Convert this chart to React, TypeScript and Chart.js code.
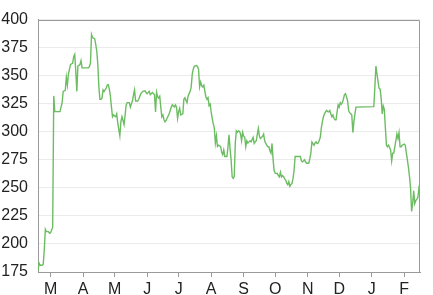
import React, { useEffect, useRef } from "react";
import { Chart, registerables } from "chart.js";

Chart.register(...registerables);

// day offsets from 1 March (negative = February of the first year)
const days = [
  -12, -11, -10, -8, -7, -6, -5, -4, -2, -1, 0, 2, 3, 4, 6, 9, 11, 12, 14, 15, 16, 17, 19, 21, 22, 23, 24, 25, 26, 28,
  29, 30, 32, 36, 37, 38, 39, 40, 42, 43, 44, 45, 46, 47, 48, 49, 50, 51, 53, 54, 55, 56, 57, 58, 59, 60, 61, 62, 63, 64,
  65, 66, 67, 68, 69, 70, 71, 72, 73, 75, 76, 77, 78, 79, 80, 81, 83, 84, 86, 88, 90, 91, 92, 94, 95, 97, 99, 100, 101, 102,
  103, 104, 105, 106, 107, 108, 109, 110, 111, 112, 113, 114, 115, 116, 118, 119, 120, 121, 122, 123, 124, 126, 127, 128, 129, 130, 131, 132, 133, 134,
  135, 136, 137, 139, 140, 141, 142, 143, 144, 145, 146, 147, 148, 149, 150, 151, 152, 153, 154, 155, 156, 157, 158, 159, 160, 162, 163, 164, 165, 166,
  168, 169, 170, 171, 172, 173, 174, 175, 176, 177, 178, 179, 180, 181, 182, 183, 184, 185, 186, 187, 188, 189, 190, 191, 192, 193, 194, 195, 196, 197,
  198, 199, 200, 201, 202, 203, 204, 205, 206, 207, 208, 209, 210, 211, 212, 213, 214, 215, 216, 217, 218, 219, 220, 221, 222, 223, 224, 225, 226, 227,
  228, 229, 230, 231, 232, 233, 234, 236, 238, 239, 240, 241, 242, 243, 244, 246, 247, 248, 249, 250, 251, 252, 253, 254, 255, 256, 257, 258, 259, 260,
  261, 262, 263, 264, 265, 266, 267, 268, 269, 270, 271, 272, 273, 274, 275, 276, 277, 278, 279, 280, 281, 282, 283, 284, 285, 286, 287, 288, 289, 290,
  291, 308, 309, 310, 311, 312, 313, 314, 315, 316, 317, 318, 319, 320, 321, 322, 323, 324, 325, 326, 327, 328, 329, 330, 331, 332, 333, 334, 335, 337,
  338, 339, 340, 341, 342, 343, 344, 345, 346, 347, 348, 349, 350, 351, 352,
];

const prices = [
  176, 183, 181, 181, 182, 195, 213, 211, 211, 209.5, 210, 215, 332, 318, 318, 318, 326, 336, 337, 348.6, 341.6, 351.5, 360, 361, 367, 369, 354, 336, 358.5, 360,
  363.4, 357, 357, 357, 358, 361.4, 386.7, 384, 383, 378, 372, 360, 340, 329, 329, 330, 337.4, 336, 339, 341.6, 342, 338, 331.7, 322, 313.4, 315, 314, 313.4, 316, 308,
  302, 296.5, 309, 313.4, 310, 306.4, 315, 324, 326, 326, 322, 325, 327.5, 333, 337.4, 327.5, 327.5, 329, 334, 336, 336.5, 335, 334, 336, 333, 335, 333, 317.7, 335, 331,
  330, 331.7, 322, 313.4, 315, 311, 309, 310, 312, 314, 316, 319, 322, 324, 322, 324, 322, 312, 318, 321, 315, 316, 329, 330.4, 328, 326, 331.7, 334, 336, 340,
  351.5, 356, 358.5, 359, 358, 355.7, 340, 344.4, 341, 340, 341.5, 336, 331, 329, 330.4, 323.3, 324.6, 317.7, 312, 307, 303.5, 290, 296.5, 287, 288, 287, 282, 279.6, 283.8, 278,
  278, 286, 297.4, 285, 275, 259.8, 258.4, 260, 290, 300.8, 299.5, 300.8, 300.5, 298, 292, 299.5, 296, 295, 286.6, 292, 290, 291, 292, 291, 293, 295, 289.6, 291, 292, 298,
  303, 296, 294, 295, 296, 298, 292, 289.6, 288, 286.6, 286.6, 283, 281, 289.6, 275.4, 265.5, 263, 262.7, 263, 261, 259.8, 264, 259.8, 261, 260, 258, 257, 254.2, 252.8, 255.6,
  251.4, 253, 254, 258.4, 265.5, 278, 278, 278, 278, 274, 273.2, 274, 275, 273, 272, 272, 276, 281, 290.9, 289.5, 288, 290, 291, 289.5, 290, 292.3, 295.1, 303.6, 309, 313.4,
  316, 317.7, 319, 318, 317.7, 319, 316, 313.4, 315, 312, 310.6, 310.6, 317.7, 324, 322, 326, 324.6, 326, 329, 333.2, 334, 331, 327.7, 319, 317, 316, 315, 299.3, 309, 316,
  322, 322.4, 340, 358.5, 351.5, 345, 338.8, 338, 330, 316, 323, 320, 303.6, 288, 286.6, 288, 286, 283.8, 274, 281, 281, 286.6, 292, 298, 294, 299.3, 286.6, 286.6, 288, 289,
  288, 281, 275, 268, 260, 250, 229, 236, 247.3, 236, 238.7, 240, 241.5, 250, 247,
];

const monthStarts = [0, 31, 61, 92, 122, 153, 184, 214, 245, 275, 306, 337];
const monthLabels = ["M", "A", "M", "J", "J", "A", "S", "O", "N", "D", "J", "F"];

const Y_MIN = 175;
const Y_MAX = 400;
const Y_STEP = 25;
const X_MIN = -12;
const X_MAX = 352;

const framePlugin = {
  id: "frame",
  afterDraw(chart: any) {
    const { ctx, chartArea } = chart;
    const { left, top, right, bottom } = chartArea;
    ctx.save();
    ctx.strokeStyle = "#9a9a9a";
    ctx.lineWidth = 1;
    ctx.beginPath();
    ctx.moveTo(Math.round(left) + 0.5, Math.round(top) + 0.5);
    ctx.lineTo(Math.round(right) - 0.5, Math.round(top) + 0.5);
    ctx.lineTo(Math.round(right) - 0.5, Math.round(bottom) + 0.5);
    ctx.stroke();
    ctx.restore();
  },
};

export default function App() {
  const ref = useRef<HTMLCanvasElement | null>(null);

  useEffect(() => {
    document.body.style.margin = "0";
    const canvas = ref.current;
    if (!canvas) return;
    const font = { family: "'Liberation Sans', Arial, Helvetica, sans-serif", size: 16 };
    const chart = new Chart(canvas, {
      type: "line",
      data: {
        datasets: [
          {
            data: days.map((d, i) => ({ x: d, y: prices[i] })),
            borderColor: "#6cbd62",
            borderWidth: 1.4,
            pointRadius: 0,
            tension: 0,
            fill: false,
          },
        ],
      },
      options: {
        animation: false,
        responsive: false,
        devicePixelRatio: 1,
        layout: { padding: { top: 6, right: 13, left: 0, bottom: 0 } },
        plugins: { legend: { display: false }, tooltip: { enabled: false } },
        scales: {
          x: {
            type: "linear",
            min: X_MIN,
            max: X_MAX,
            afterFit(scale: any) {
              scale.height = 23;
            },
            afterBuildTicks(scale: any) {
              scale.ticks = monthStarts.map((v) => ({ value: v }));
            },
            ticks: {
              autoSkip: false,
              maxRotation: 0,
              padding: 3,
              color: "#222",
              font,
              callback(value: any) {
                const idx = monthStarts.indexOf(Number(value));
                return idx >= 0 ? monthLabels[idx] : "";
              },
            },
            grid: { drawOnChartArea: false, drawTicks: true, tickLength: 5, color: "#9a9a9a" },
            border: { display: true, color: "#9a9a9a" },
          },
          y: {
            min: Y_MIN,
            max: Y_MAX,
            afterFit(scale: any) {
              scale.width = 38;
            },
            ticks: { stepSize: Y_STEP, padding: 10, color: "#222", font },
            grid: { color: "#ebebeb", drawTicks: false },
            border: { display: true, color: "#9a9a9a" },
          },
        },
      },
      plugins: [framePlugin],
    });
    return () => chart.destroy();
  }, []);

  return <canvas ref={ref} width={433} height={295} style={{ display: "block" }} />;
}
